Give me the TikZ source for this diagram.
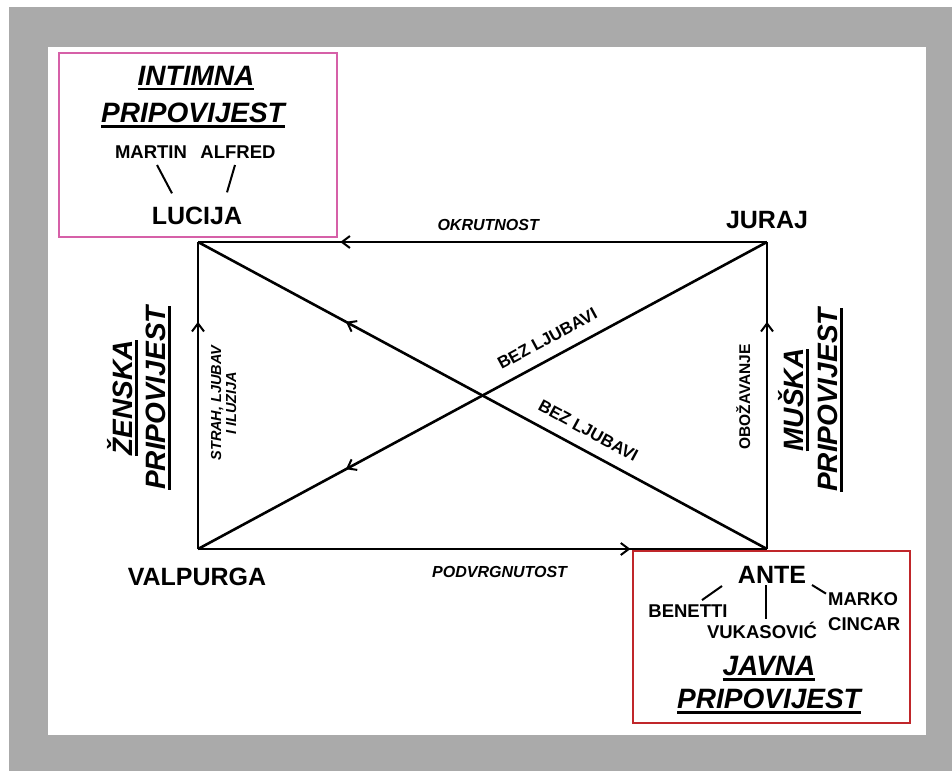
\documentclass[tikz,border=0pt]{standalone}
\usepackage{fontspec}
\setmainfont{Liberation Sans}
\usetikzlibrary{arrows.meta,decorations.markings}
\definecolor{matgray}{RGB}{170,170,170}
\definecolor{intimpink}{RGB}{214,96,168}
\definecolor{javnared}{RGB}{192,38,42}
\newcommand{\tul}[1]{\leavevmode\vtop{\hbox{#1}\kern3pt\hrule height 2.4pt}}
\tikzset{
  >={Straight Barb[length=8pt,width=12pt,line width=2pt]},
  side/.style={line width=2.6pt},
  fwdarrow/.style={postaction={decorate,decoration={markings,mark=at position #1 with {\arrow{>}}}}},
  backarrow/.style={postaction={decorate,decoration={markings,mark=at position #1 with {\arrowreversed{>}}}}},
  person/.style={inner sep=0pt, anchor=base, font=\fontsize{25}{30}\selectfont\bfseries},
  minor/.style={inner sep=0pt, anchor=base, font=\fontsize{18.5}{22}\selectfont\bfseries},
  story/.style={inner sep=0pt, anchor=base, font=\fontsize{28}{34}\selectfont\bfseries\itshape},
  motive/.style={inner sep=0pt, font=\fontsize{16}{19}\selectfont\bfseries\itshape},
  bez/.style={inner sep=0pt, sloped, font=\fontsize{17}{20}\selectfont\bfseries},
  link/.style={line width=2pt},
  storybox/.style={line width=2.4pt}
}
\begin{document}
\begin{tikzpicture}[x=1pt,y=-1pt]
\useasboundingbox (0,0) rectangle (952,771);
% passe-partout
\fill[white] (0,0) rectangle (952,771);
\fill[matgray] (9,7) rectangle (952,771);
\fill[white] (48,47) rectangle (926,735);

\coordinate (A) at (198,242);
\coordinate (B) at (767,242);
\coordinate (C) at (198,549);
\coordinate (D) at (767,549);

\draw[side, backarrow=.25] (A) -- (B) node[motive, pos=.51, above=10pt] (okrut) {OKRUTNOST};
\draw[side, fwdarrow=.76] (C) -- (D) node[motive, pos=.53, below=16pt] (podvrg) {PODVRGNUTOST};
\draw[side, fwdarrow=.74] (C) -- (A);
\draw[side, fwdarrow=.74] (D) -- (B);
\draw[side, backarrow=.26] (A) -- (D) node[bez, pos=.67, above=12pt] (bez2) {BEZ LJUBAVI};
\draw[side, backarrow=.26] (C) -- (B) node[bez, pos=.63, above=12pt] (bez1) {BEZ LJUBAVI};

\node[person] (juraj) at (767,228) {JURAJ};
\node[person] (valpurga) at (197,585) {VALPURGA};

% side texts
\node[story, rotate=90] (zenska) at (132,398) {\tul{ŽENSKA}};
\node[story, rotate=90] (zenpri) at (165,398) {\tul{PRIPOVIJEST}};
\node[motive, anchor=base, rotate=90, font=\fontsize{14.5}{17}\selectfont\bfseries\itshape] (strah) at (221,403) {STRAH, LJUBAV};
\node[motive, anchor=base, rotate=90, font=\fontsize{14.5}{17}\selectfont\bfseries\itshape] (iluzija) at (236,403) {I ILUZIJA};
\node[motive, anchor=base, rotate=90, font=\fontsize{15.5}{18}\selectfont\bfseries] (obozav) at (750,397) {OBOŽAVANJE};
\node[story, rotate=90] (muska) at (803,400) {\tul{MUŠKA}};
\node[story, rotate=90] (muspri) at (837,400) {\tul{PRIPOVIJEST}};

% intimna pripovijest
\draw[storybox, intimpink] (59,53) rectangle (337,237);
\node[story] (intimna) at (196,85) {\tul{INTIMNA}};
\node[story] (intpri) at (193,122) {\tul{PRIPOVIJEST}};
\node[minor] (martin) at (151,158) {MARTIN};
\node[minor] (alfred) at (238,158) {ALFRED};
\node[person] (lucija) at (197,224) {LUCIJA};
\draw[link] ([xshift=6pt,yshift=-7pt]martin.base) -- ([xshift=-25pt,yshift=13pt]lucija.north);
\draw[link] ([xshift=-3pt,yshift=-7pt]alfred.base) -- ([xshift=30pt,yshift=14pt]lucija.north);

% javna pripovijest
\draw[storybox, javnared] (633,551) rectangle (910,723);
\node[person] (ante) at (772,583) {ANTE};
\node[minor] (benetti) at (688,617) {BENETTI};
\node[minor] (vukasovic) at (762,638) {VUKASOVIĆ};
\node[minor, anchor=base west] (marko) at (828,605) {MARKO};
\node[minor, anchor=base west] (cincar) at (828,630) {CINCAR};
\node[story] (javna) at (769,675) {\tul{JAVNA}};
\node[story] (javpri) at (769,708) {\tul{PRIPOVIJEST}};
\draw[link] ([xshift=14pt,yshift=4pt]benetti.north) -- ([xshift=-50pt,yshift=-3pt]ante.base);
\draw[link] ([xshift=-6pt,yshift=-2pt]ante.base) -- ([xshift=4pt,yshift=2pt]vukasovic.north);
\draw[link] ([xshift=40pt,yshift=-2pt]ante.base) -- ([xshift=-2pt,yshift=5pt]marko.west);
\end{tikzpicture}
\end{document}
